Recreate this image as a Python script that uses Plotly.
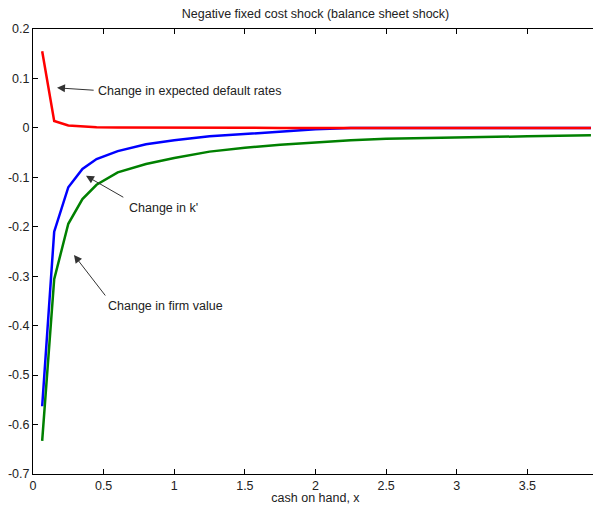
import plotly.graph_objects as go

# cash on hand grid
x_vals = [0.065, 0.15, 0.25, 0.35, 0.45, 0.6, 0.8, 1.0, 1.25, 1.5, 1.75, 2.0, 2.25, 2.5, 3.0, 3.5, 3.95]

default_rates = [0.155, 0.014, 0.005, 0.003, 0.0015, 0.001, 0.0005, 0.0003, 0.0002, 0.0001, 0.0, 0.0, 0.0, 0.0, 0.0, 0.0, 0.0]
change_k = [-0.563, -0.21, -0.12, -0.083, -0.063, -0.047, -0.033, -0.025, -0.017, -0.012, -0.0075, -0.003, 0.0, 0.0, 0.0, 0.0, 0.0]
firm_value = [-0.633, -0.306, -0.194, -0.144, -0.115, -0.09, -0.073, -0.061, -0.048, -0.040, -0.034, -0.029, -0.025, -0.022, -0.019, -0.017, -0.015]

x_ticks = [0, 0.5, 1, 1.5, 2, 2.5, 3, 3.5, 4]
x_tick_labels = ["0", "0.5", "1", "1.5", "2", "2.5", "3", "3.5", "4"]
y_ticks = [-0.7, -0.6, -0.5, -0.4, -0.3, -0.2, -0.1, 0, 0.1, 0.2]
y_tick_labels = ["-0.7", "-0.6", "-0.5", "-0.4", "-0.3", "-0.2", "-0.1", "0", "0.1", "0.2"]

font_family = "Liberation Sans, Arial, sans-serif"
text_color = "#222222"
fs = 12.5

# page body adds an 8px offset; figure sized so the plot area lands where the reference has it
W, H = 593, 497

fig = go.Figure()
fig.add_trace(go.Scatter(x=x_vals, y=change_k, mode="lines",
                         line=dict(color="#0000ff", width=2.5), showlegend=False))
fig.add_trace(go.Scatter(x=x_vals, y=firm_value, mode="lines",
                         line=dict(color="#008000", width=2.5), showlegend=False))
fig.add_trace(go.Scatter(x=x_vals, y=default_rates, mode="lines",
                         line=dict(color="#ff0000", width=2.5), showlegend=False))

annotations = [
    # arrows (head at x,y ; tail at ax,ay)
    dict(x=0.17, y=0.081, ax=0.44, ay=0.076),
    dict(x=0.375, y=-0.097, ax=0.65, ay=-0.142),
    dict(x=0.29, y=-0.257, ax=0.52, ay=-0.342),
]
for a in annotations:
    fig.add_annotation(x=a["x"], y=a["y"], ax=a["ax"], ay=a["ay"],
                       xref="x", yref="y", axref="x", ayref="y",
                       text="", showarrow=True, arrowhead=2, arrowsize=1.6,
                       arrowwidth=1, arrowcolor="#333333")

labels = [
    dict(x=0.445, y=0.075, text="Change in expected default rates"),
    dict(x=0.665, y=-0.162, text="Change in k'"),
    dict(x=0.52, y=-0.36, text="Change in firm value"),
]
for l in labels:
    fig.add_annotation(x=l["x"], y=l["y"], xref="x", yref="y", text=l["text"],
                       showarrow=False, xanchor="left", yanchor="middle",
                       font=dict(family=font_family, size=fs, color=text_color))

# last x tick label sits on the page edge; Plotly would drop it, so draw it as text
shown_x_labels = x_tick_labels[:-1] + [""]
fig.add_annotation(x=1, y=0, xref="paper", yref="paper", text=x_tick_labels[-1],
                   showarrow=False, xanchor="right", yanchor="top", yshift=-1, xshift=3,
                   borderpad=0,
                   font=dict(family=font_family, size=fs, color=text_color))

axis_common = dict(
    showline=True, linecolor="#000000", linewidth=1, mirror="ticks",
    ticks="inside", ticklen=5, tickcolor="#000000",
    showgrid=False, zeroline=False, automargin=False,
    tickfont=dict(family=font_family, size=fs, color=text_color),
)

fig.update_xaxes(range=[0, 4], tickvals=x_ticks, ticktext=shown_x_labels,
                 title=dict(text="cash on hand, x", standoff=3,
                            font=dict(family=font_family, size=fs, color=text_color)),
                 **axis_common)
fig.update_yaxes(range=[-0.7, 0.2], tickvals=y_ticks, ticktext=y_tick_labels,
                 ticklabelstandoff=0, **axis_common)

fig.update_layout(
    width=W, height=H,
    margin=dict(l=25, r=3, t=21, b=31),
    plot_bgcolor="white", paper_bgcolor="white",
    title=dict(text="Negative fixed cost shock (balance sheet shock)",
               x=(315.5 - 8) / W, xanchor="center", y=1 - 6 / H, yanchor="middle",
               font=dict(family=font_family, size=fs, color=text_color)),
)

fig.write_html("out.html")
